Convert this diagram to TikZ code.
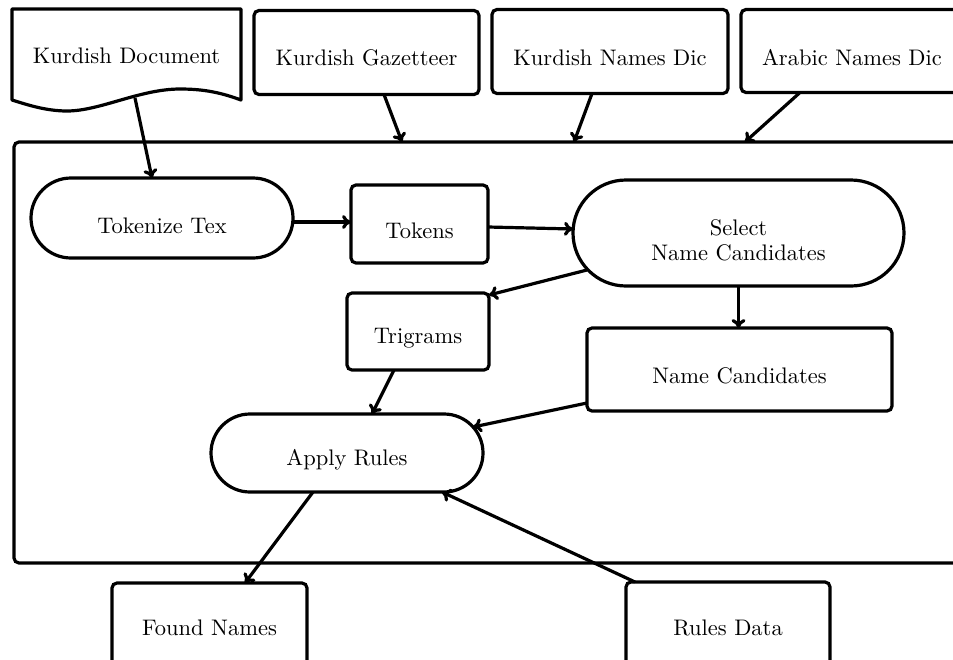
\documentclass[tikz,border=0pt]{standalone}
\usepackage{graphicx}
\usetikzlibrary{arrows.meta,calc}
\begin{document}
\begin{tikzpicture}[x=1pt,y=-1pt,
  shp/.style={draw, inner sep=0pt, outer sep=0pt, line width=3.2pt},
  rbox/.style={shp, rounded corners=5pt},
  pill/.style={shp, rounded corners=#1},
  lbl/.style={anchor=base, inner sep=0pt, outer sep=0pt, font=\fontsize{10}{11.1}\selectfont},
  arr/.style={-{Computer Modern Rightarrow[length=9pt,width=14pt]}, line width=3.2pt}
]
\useasboundingbox (0,0) rectangle (953,659);
\fill[white] (0,0) rectangle (953,659);
\clip (0,0) rectangle (953,659);

% outer system frame
\node[rbox, minimum width=976pt, minimum height=421pt] (sys) at (502,352.5) {};

% document
\node[inner sep=0pt, outer sep=0pt, minimum width=229pt, minimum height=91pt] (doc) at (126.5,54.5) {};
\draw[line width=3.2pt, line join=round] (doc.north west) -- (doc.north east) -- (doc.south east)
  .. controls (222,93) and (205,89) .. (180,89)
  .. controls (140,89) and (100,111) .. (67,111)
  .. controls (45,111) and (25,104) .. (doc.south west) -- cycle;
\node[lbl] (tdoc) at (126.5,63) {\scalebox{2.25}{Kurdish Document}};

% top sources
\node[rbox, minimum width=225pt, minimum height=84pt] (gaz) at (366.5,52.5) {};
\node[lbl] (tgaz) at (366.5,65) {\scalebox{2.25}{Kurdish Gazetteer}};
\node[rbox, minimum width=236pt, minimum height=84pt] (kdic) at (610,51.5) {};
\node[lbl] (tkdic) at (610,65) {\scalebox{2.25}{Kurdish Names Dic}};
\node[rbox, minimum width=222pt, minimum height=83pt] (adic) at (852,51) {};
\node[lbl] (tadic) at (852,65) {\scalebox{2.25}{Arabic Names Dic}};

% inner process
\node[pill=40pt, minimum width=262pt, minimum height=80pt] (tok) at (162,218) {};
\node[lbl] (ttok) at (162,233) {\scalebox{2.25}{Tokenize Tex}};
\node[rbox, minimum width=137pt, minimum height=78pt] (tokens) at (419.5,224) {};
\node[lbl] (ttokens) at (419.5,238) {\scalebox{2.25}{Tokens}};
\node[pill=53pt, minimum width=331pt, minimum height=106pt] (sel) at (738.5,233) {};
\node[lbl] (tsel) at (738.5,260) {\scalebox{2.25}{\begin{tabular}[b]{@{}c@{}}Select\\Name Candidates\end{tabular}}};
\node[rbox, minimum width=142pt, minimum height=77pt] (tri) at (418,331.5) {};
\node[lbl] (ttri) at (418,343) {\scalebox{2.25}{Trigrams}};
\node[rbox, minimum width=305pt, minimum height=83pt] (nc) at (739.5,369.5) {};
\node[lbl] (tnc) at (739.5,383) {\scalebox{2.25}{Name Candidates}};
\node[pill=39pt, minimum width=272pt, minimum height=78pt] (app) at (347,453) {};
\node[lbl] (tapp) at (347,465) {\scalebox{2.25}{Apply Rules}};

% outputs / data
\node[rbox, minimum width=195pt, minimum height=100pt] (found) at (209.5,633) {};
\node[lbl] (tfound) at (209.5,635) {\scalebox{2.25}{Found Names}};
\node[rbox, minimum width=204pt, minimum height=100pt] (rules) at (728,632) {};
\node[lbl] (trules) at (728,635) {\scalebox{2.25}{Rules Data}};

% connectors
\draw[arr] ([xshift=8.5pt,yshift=2pt]doc.south) -- ([xshift=-10pt]tok.north);
\draw[arr] ([xshift=17.5pt]gaz.south) -- ([xshift=-100pt]sys.north);
\draw[arr] ([xshift=-18pt]kdic.south) -- ([xshift=72pt]sys.north);
\draw[arr] ([xshift=-52pt]adic.south) -- ([xshift=243pt]sys.north);
\draw[arr] ([yshift=-4pt]tok.east) -- ([yshift=2pt]tokens.west);
\draw[arr] ([yshift=-3pt]tokens.east) -- ([yshift=4pt]sel.west);
\draw[arr] ([xshift=14pt,yshift=16pt]sel.south west) -- ([yshift=-2pt]tri.north east);
\draw[arr] (sel.south) -- (sel.south |- nc.north);
\draw[arr] ([xshift=-24pt]tri.south) -- ([xshift=25pt]app.north);
\draw[arr] ([yshift=8pt]nc.south west) -- ([xshift=-10pt,yshift=26pt]app.east);
\draw[arr] ([xshift=-34pt]app.south) -- ([xshift=35.5pt]found.north);
\draw[arr] ([xshift=9pt]rules.north west) -- ([xshift=95pt]app.south);
\end{tikzpicture}
\end{document}
